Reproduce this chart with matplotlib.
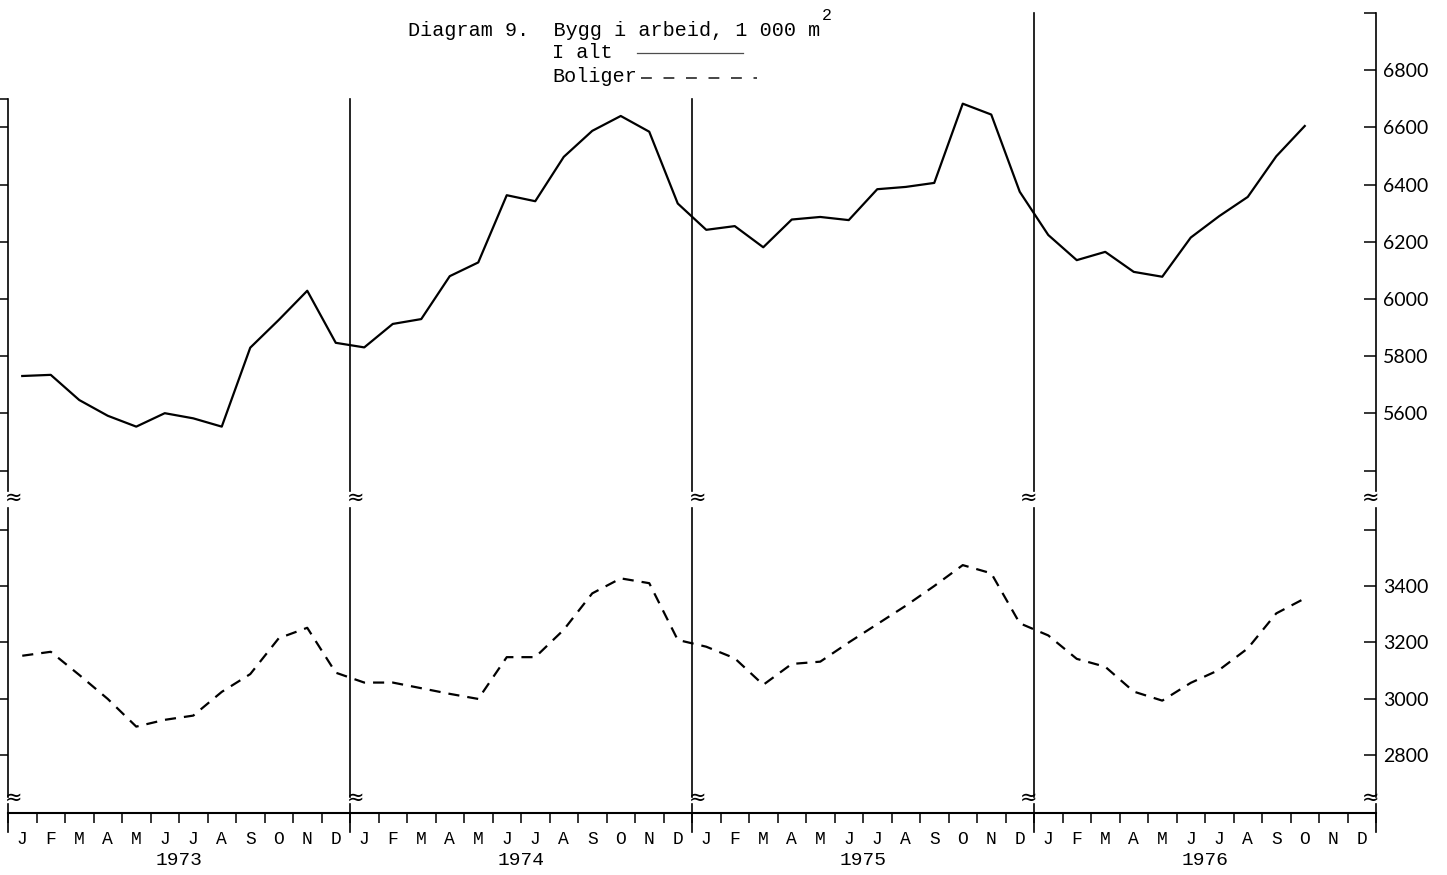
import numpy as np
import matplotlib.pyplot as plt
from matplotlib import transforms
from matplotlib.lines import Line2D

MONTHS = list("JFMAMJJASOND")
YEARS = ["1973", "1974", "1975", "1976"]

# Bygg i arbeid, 1 000 m2 (Jan 1973 - Oct 1976)
I_ALT = [5731, 5735, 5647, 5592, 5554, 5601, 5583, 5554, 5830, 5927, 6029, 5847,
         5831, 5913, 5930, 6080, 6128, 6363, 6342, 6497, 6588, 6640, 6585, 6334,
         6242, 6255, 6181, 6278, 6287, 6276, 6384, 6392, 6406, 6683, 6645, 6375,
         6224, 6136, 6165, 6095, 6078, 6215, 6290, 6357, 6499, 6605]
BOLIGER = [3153, 3167, 3085, 3000, 2902, 2926, 2941, 3025, 3088, 3215, 3252, 3093,
           3058, 3058, 3038, 3018, 3000, 3148, 3148, 3245, 3374, 3427, 3410, 3209,
           3185, 3144, 3050, 3124, 3132, 3200, 3265, 3330, 3400, 3474, 3445, 3268,
           3225, 3142, 3114, 3026, 2994, 3057, 3103, 3179, 3303, 3356]

UPPER_TICKS = [5400, 5600, 5800, 6000, 6200, 6400, 6600, 6800, 7000]
UPPER_LABELS = ["", "5600", "5800", "6000", "6200", "6400", "6600", "6800", ""]
LOWER_TICKS = [2800, 3000, 3200, 3400, 3600]
LOWER_LABELS = ["2800", "3000", "3200", "3400", ""]
UPPER_LIM = (5308, 7000)
LOWER_LIM = (2596, 3694)
YEAR_EDGES = [0, 12, 24, 36, 48]
EDGE_TOPS = [6700, 6700, 6700, 7000, 7000]

W, H = 1447, 875
MONO = "Liberation Mono"
NUM = ["Lato", "DejaVu Sans"]


def px_box(l, t, r, b):
    return [l / W, 1 - b / H, (r - l) / W, (b - t) / H]


fig = plt.figure(figsize=(W / 100, H / 100), dpi=100)
ax_top = fig.add_axes(px_box(8, 13, 1376, 497))
ax_bot = fig.add_axes(px_box(8, 503, 1376, 813))

x = np.arange(len(I_ALT)) + 0.5

for ax in (ax_top, ax_bot):
    ax.set_xlim(0, 48)
    for s in ("left", "right", "top", "bottom"):
        ax.spines[s].set_visible(False)
    ax.yaxis.tick_right()
    ax.tick_params(axis="y", direction="in", length=8.6, width=1.1, pad=5,
                   labelsize=14, labelcolor="black")
ax_top.tick_params(axis="x", which="both", bottom=False, labelbottom=False)

ax_top.set_ylim(*UPPER_LIM)
ax_bot.set_ylim(*LOWER_LIM)

ax_top.plot(x, I_ALT, color="black", lw=1.6)
ax_bot.plot(x, BOLIGER, color="black", lw=1.6, linestyle=(0, (5, 3.6)))

# right-hand scale
ax_top.set_yticks(UPPER_TICKS, UPPER_LABELS)
ax_bot.set_yticks(LOWER_TICKS, LOWER_LABELS)
for ax in (ax_top, ax_bot):
    for lab in ax.get_yticklabels():
        lab.set_family(NUM)

# left-hand ticks
left_top = [t for t in UPPER_TICKS if t <= EDGE_TOPS[0]] + [EDGE_TOPS[0]]
ax_top.plot(np.zeros(len(left_top)), left_top, ls="none", marker=0,
            ms=8.6, mew=1.1, color="black", clip_on=False)
ax_bot.plot(np.zeros(len(LOWER_TICKS)), LOWER_TICKS, ls="none", marker=0,
            ms=8.6, mew=1.1, color="black", clip_on=False)

# vertical axis / year lines, broken twice
lo, hi = UPPER_LIM
for edge, top in zip(YEAR_EDGES, EDGE_TOPS):
    ax_top.axvline(edge, ymin=0.012, ymax=(top - lo) / (hi - lo),
                   color="black", lw=1.2, clip_on=False)
    ax_bot.axvline(edge, ymin=0.052, ymax=0.985, color="black", lw=1.2,
                   clip_on=False)
    ax_bot.axvline(edge, ymin=-0.061, ymax=0.03, color="black", lw=1.2,
                   clip_on=False)

tr = transforms.blended_transform_factory(ax_bot.transData, fig.transFigure)
for edge in YEAR_EDGES:
    off = 0.2 if edge < 36 else -0.2
    for ypx in (498, 798):
        ax_bot.text(edge + off, 1 - ypx / H, "\u2248", transform=tr,
                    ha="center", va="center", fontsize=15,
                    family="DejaVu Sans")

# x axis
ax_bot.spines["bottom"].set_visible(True)
ax_bot.spines["bottom"].set_linewidth(1.5)
ax_bot.set_xticks(x.tolist() + [46.5, 47.5], MONTHS * len(YEARS))
ax_bot.set_xticks(np.arange(49), minor=True)
ax_bot.tick_params(axis="x", which="major", length=0, pad=13, labelsize=13)
ax_bot.tick_params(axis="x", which="minor", length=7.5, width=1.1,
                   direction="out")
for lab in ax_bot.get_xticklabels():
    lab.set_family(MONO)

tx = transforms.blended_transform_factory(ax_bot.transData, ax_bot.transAxes)
for i, year in enumerate(YEARS):
    ax_bot.text(YEAR_EDGES[i] + 6, -0.152, year, transform=tx, ha="center",
                va="center", fontsize=14, family=MONO)

# title and legend
fig.text(408 / W, 1 - 31 / H, "Diagram 9.  Bygg i arbeid, 1 000 m",
         family=MONO, fontsize=14.5, va="center")
fig.text(822 / W, 1 - 16 / H, "2", family=MONO, fontsize=12, va="center")
fig.text(552 / W, 1 - 53 / H, "I alt", family=MONO, fontsize=14.5,
         va="center")
fig.text(552 / W, 1 - 77 / H, "Boliger", family=MONO, fontsize=14.5,
         va="center")
fig.add_artist(Line2D([637 / W, 743 / W], [1 - 53 / H] * 2,
                      transform=fig.transFigure, color="0.3", lw=0.9))
fig.add_artist(Line2D([641 / W, 757 / W], [1 - 78 / H] * 2,
                      transform=fig.transFigure, color="0.15", lw=1.2,
                      linestyle=(0, (6.5, 7))))

fig.savefig("out.png", dpi=100)
